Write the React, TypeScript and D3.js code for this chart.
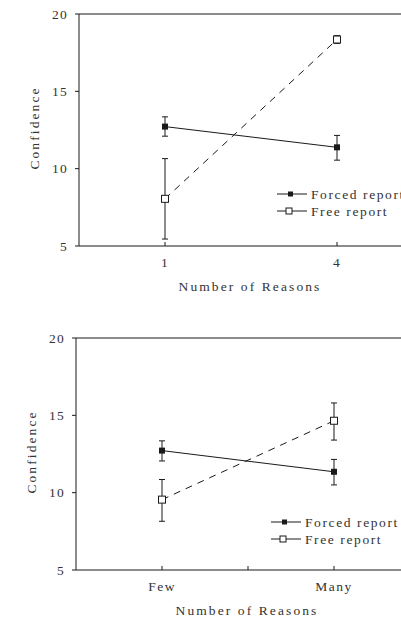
import React from "react";
import { scaleLinear, scalePoint, line } from "d3";

// values
const series = ["Forced report", "Free report"];
const topCats = ["1", "4"];
const topForced = [12.72, 11.38];
const topForcedLo = [12.1, 10.55];
const topForcedHi = [13.35, 12.15];
const topFree = [8.05, 18.35];
const topFreeLo = [5.45, 18.1];
const topFreeHi = [10.65, 18.6];

const botCats = ["Few", "Many"];
const botForced = [12.72, 11.35];
const botForcedLo = [12.05, 10.5];
const botForcedHi = [13.35, 12.15];
const botFree = [9.55, 14.65];
const botFreeLo = [8.15, 13.4];
const botFreeHi = [10.85, 15.8];

const yTicks = [5, 10, 15, 20];
const FONT = "'Liberation Serif', serif";
const INK = "#1a1a1a";
const TXT = "#333";

const Panel = ({ top, left, cats, forced, forcedLo, forcedHi, free, freeLo, freeHi, legend, midTick }) => {
  const width = 344;
  const height = 232;
  const x = scalePoint().domain(cats).range([0, width]).padding(0.5);
  const y = scaleLinear().domain([5, 20]).range([height, 0]);
  const ln = line().x((d) => x(d[0])).y((d) => y(d[1]));
  const forcedPts = cats.map((c, i) => [c, forced[i]]);
  const freePts = cats.map((c, i) => [c, free[i]]);
  const errBar = (c, lo, hi, k) => (
    <g key={k} stroke={INK} strokeWidth={1}>
      <line x1={x(c)} x2={x(c)} y1={y(lo)} y2={y(hi)} />
      <line x1={x(c) - 3} x2={x(c) + 3} y1={y(lo)} y2={y(lo)} />
      <line x1={x(c) - 3} x2={x(c) + 3} y1={y(hi)} y2={y(hi)} />
    </g>
  );
  return (
    <g transform={`translate(${left},${top})`} fontFamily={FONT} fill={TXT}>
      {/* frame */}
      <line x1={0} x2={width} y1={0} y2={0} stroke={INK} />
      <line x1={0} x2={width} y1={height} y2={height} stroke={INK} />
      <line x1={0} x2={0} y1={0} y2={height} stroke={INK} />
      {yTicks.map((t) => (
        <g key={t} transform={`translate(0,${y(t)})`}>
          <line x1={-4} x2={0} stroke={INK} />
          <text x={-11} dy="0.35em" textAnchor="end" fontSize={13.5} letterSpacing={1.2}>
            {t}
          </text>
        </g>
      ))}
      {cats.map((c) => (
        <g key={c} transform={`translate(${x(c)},${height})`}>
          <line y1={0} y2={-4} stroke={INK} />
          <text y={21} textAnchor="middle" fontSize={13.5} letterSpacing={1.5}>
            {c}
          </text>
        </g>
      ))}
      {midTick && <line x1={width / 2} x2={width / 2} y1={height} y2={height - 4} stroke={INK} />}
      <text
        transform={`translate(${-40},${height / 2 - 2}) rotate(-90)`}
        textAnchor="middle"
        fontSize={13.5}
        letterSpacing={2.1}
      >
        Confidence
      </text>
      <text x={width / 2 - 1} y={height + 45} textAnchor="middle" fontSize={13.5} letterSpacing={2.1}>
        Number of Reasons
      </text>
      {/* lines */}
      <path d={ln(forcedPts)} fill="none" stroke={INK} strokeWidth={1} />
      <path d={ln(freePts)} fill="none" stroke={INK} strokeWidth={1} strokeDasharray="7,6" />
      {cats.map((c, i) => errBar(c, forcedLo[i], forcedHi[i], "f" + i))}
      {cats.map((c, i) => errBar(c, freeLo[i], freeHi[i], "r" + i))}
      {forcedPts.map((d, i) => (
        <rect key={i} x={x(d[0]) - 3} y={y(d[1]) - 3} width={6} height={6} fill={INK} />
      ))}
      {freePts.map((d, i) => (
        <rect key={i} x={x(d[0]) - 3.5} y={y(d[1]) - 3.5} width={7} height={7} fill="white" stroke={INK} />
      ))}
      {/* legend */}
      <g transform={`translate(${legend[0]},${legend[1]})`}>
        {series.map((s, i) => (
          <g key={s} transform={`translate(0,${i * 17})`}>
            <line x1={0} x2={30} stroke={INK} />
            {i === 0 ? (
              <rect x={11} y={-2.5} width={5} height={5} fill={INK} />
            ) : (
              <rect x={9} y={-3} width={6} height={6} fill="white" stroke={INK} />
            )}
            <text x={34} dy="0.35em" fontSize={13.5} letterSpacing={1.6}>
              {s}
            </text>
          </g>
        ))}
      </g>
    </g>
  );
};

export default function App() {
  return (
    <svg width={401} height={620} style={{ position: "absolute", left: 0, top: 0, background: "white" }}>
      <Panel
        top={14}
        left={79}
        cats={topCats}
        forced={topForced}
        forcedLo={topForcedLo}
        forcedHi={topForcedHi}
        free={topFree}
        freeLo={topFreeLo}
        freeHi={topFreeHi}
        legend={[198, 180]}
        midTick={false}
      />
      <Panel
        top={338}
        left={76}
        cats={botCats}
        forced={botForced}
        forcedLo={botForcedLo}
        forcedHi={botForcedHi}
        free={botFree}
        freeLo={botFreeLo}
        freeHi={botFreeHi}
        legend={[195, 184]}
        midTick={true}
      />
    </svg>
  );
}
